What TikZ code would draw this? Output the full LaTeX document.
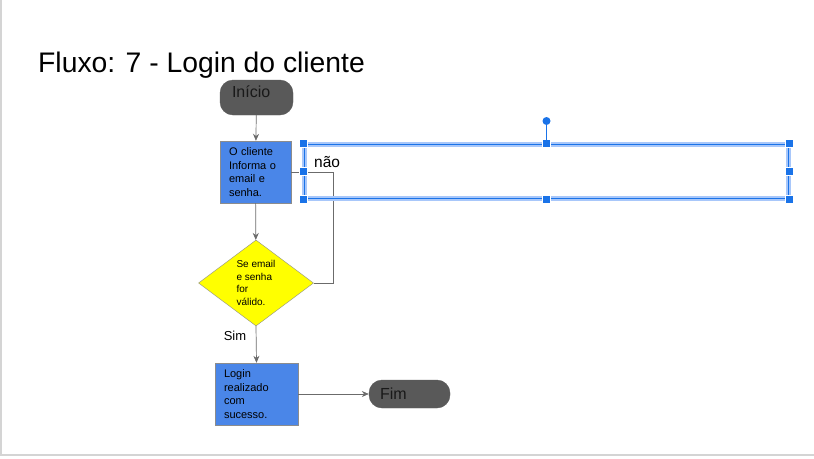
\documentclass[tikz,border=0pt]{standalone}
\usepackage{fontspec}
\setmainfont{Liberation Sans}
\usepackage{tikz}
\usetikzlibrary{shapes.geometric, arrows.meta}
\definecolor{termgray}{HTML}{595959}
\definecolor{stepblue}{HTML}{4A86E8}
\definecolor{testyellow}{HTML}{FFFF00}
\definecolor{edgegray}{HTML}{8C8C8C}
\definecolor{linegray}{HTML}{6B6B6B}
\definecolor{selblue}{HTML}{1A73E8}
\definecolor{sellight}{HTML}{A8C7FA}
\definecolor{slideedge}{HTML}{D4D4D4}

\begin{document}
\begin{tikzpicture}[x=1pt, y=-1pt,
  term/.style={rectangle, draw=termgray, fill=termgray, rounded corners=13pt,
               align=left, inner ysep=0pt, text=black!90,
               font=\fontsize{16}{18}\selectfont},
  stepbox/.style={rectangle, draw=edgegray, fill=stepblue, align=left,
                  inner xsep=9pt, inner ysep=0pt,
                  font=\fontsize{11}{13.5}\selectfont},
  test/.style={diamond, draw=edgegray, fill=testyellow, align=left,
               inner sep=0pt, minimum width=115pt, minimum height=86pt,
               font=\fontsize{10}{12.4}\selectfont},
  arr/.style={-{Stealth[length=7pt, width=6pt]}, draw=linegray, line width=0.7pt},
  selbox/.style={rectangle, draw=sellight, double=selblue,
                 double distance=1pt, line width=1.7pt,
                 minimum width=484pt, minimum height=54pt},
  handle/.style={rectangle, draw=white, fill=selblue, line width=0.6pt,
                 minimum size=8pt, inner sep=0pt}
]
  \useasboundingbox (0,0) rectangle (814,458);
  % slide edge
  \draw[slideedge, line width=2pt] (1,0) -- (1,455) -- (814,455);

  \node[anchor=base west, inner sep=0pt, font=\fontsize{28.3}{32}\selectfont] (title)
    at (38,72) {Fluxo: 7 - Login do cliente};

  % flow
  \node[term, minimum width=73pt, minimum height=35pt, text width=49pt,
        inner xsep=12pt, text height=12pt, text depth=12pt] (inicio)
    at (256.5,97.5) {Início};
  \node[stepbox, minimum width=71pt, minimum height=62pt, text width=53pt]
    (informa) at (255.5,172) {O cliente\\Informa o\\email e\\senha.};
  \node[test] (valido) at (256,283) {Se email\\e senha\\for\\válido.};
  \node[stepbox, minimum width=83pt, minimum height=62pt, text width=65pt]
    (login) at (256.5,394) {Login\\realizado\\com\\sucesso.};
  \node[term, minimum width=81pt, minimum height=28pt, text width=59pt,
        inner xsep=11pt] (fim) at (409.5,394) {Fim};

  \node[font=\fontsize{13}{15}\selectfont] (sim) at (235,336) {Sim};

  \draw[arr] (inicio) -- (informa);
  \draw[arr] (informa) -- (valido);
  \draw[arr] (valido.south) -- (login.north);
  \draw[arr] (login) -- (fim);
  \draw[draw=linegray, line width=0.7pt] (valido.east) -- ++(20,0) |- (informa.east);

  % selected text box
  \node[selbox] (sel) at (546.5,171.5) {};
  \node[anchor=west, inner xsep=0pt, font=\fontsize{15.5}{18}\selectfont] (nao) at (314,162) {não};
  \foreach \a in {north west, north, north east, east, south east, south, south west, west}
    \node[handle] at (sel.\a) {};
  \node[circle, fill=selblue, inner sep=0pt, minimum size=8pt] (rot) at (546.5,121) {};
  \draw[selblue, line width=1.2pt] (rot) -- (sel.north);
\end{tikzpicture}
\end{document}
